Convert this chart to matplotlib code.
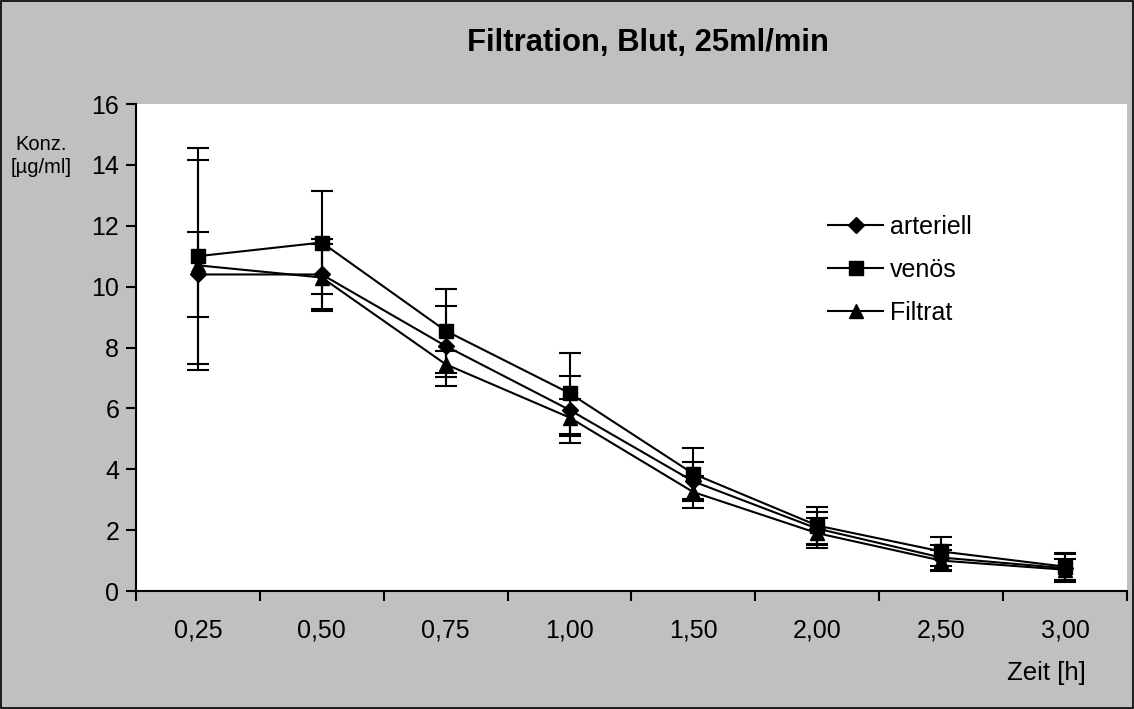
import matplotlib
matplotlib.use("Agg")
import matplotlib.pyplot as plt
from matplotlib.lines import Line2D
import numpy as np

plt.rcParams['font.family'] = ['Liberation Sans', 'DejaVu Sans']

zeit = ["0,25", "0,50", "0,75", "1,00", "1,50", "2,00", "2,50", "3,00"]
arteriell = [10.4, 10.4, 8.05, 5.95, 3.6, 2.05, 1.1, 0.75]
arteriell_sd = [1.4, 1.15, 1.3, 1.1, 0.63, 0.55, 0.4, 0.45]
venoes = [11.0, 11.45, 8.55, 6.5, 3.85, 2.15, 1.3, 0.8]
venoes_sd = [3.55, 1.7, 1.38, 1.33, 0.84, 0.6, 0.48, 0.45]
filtrat = [10.7, 10.3, 7.45, 5.7, 3.25, 1.9, 1.0, 0.7]
filtrat_sd = [3.45, 1.1, 0.42, 0.62, 0.52, 0.5, 0.35, 0.35]

grau = "#c0c0c0"
fig = plt.figure(figsize=(11.34, 7.09), dpi=100, facecolor=grau)
fig.patches.append(plt.Rectangle((0.001, 0.001), 0.998, 0.997, transform=fig.transFigure,
                                 fill=False, edgecolor="black", linewidth=1.2))
ax = fig.add_axes([0.1199, 0.1664, 0.8739, 0.6869])
ax.set_facecolor("white")

x = np.arange(len(zeit))
serien = [(arteriell, arteriell_sd, "D", 8, "arteriell"),
          (venoes, venoes_sd, "s", 9.5, "venös"),
          (filtrat, filtrat_sd, "^", 9.5, "Filtrat")]
for y, sd, m, ms, name in serien:
    ax.errorbar(x, y, yerr=sd, color="black", marker=m, markersize=ms, linewidth=1.5,
                elinewidth=1.5, capsize=8, capthick=1.5, label=name)

ax.set_xlim(-0.5, len(zeit) - 0.5)
ax.set_ylim(0, 16)
ax.set_yticks(range(0, 17, 2))
ax.set_xticks(x)
ax.set_xticklabels(zeit)
ax.set_xticks(np.arange(-0.5, len(zeit)), minor=True)
ax.tick_params(axis="x", which="major", length=0, pad=20, labelsize=18)
ax.tick_params(axis="x", which="minor", length=7, width=1.5, direction="out")
ax.tick_params(axis="y", length=7, width=1.5, direction="out", pad=5, labelsize=18)
for s in ["top", "right"]:
    ax.spines[s].set_visible(False)
for s in ["left", "bottom"]:
    ax.spines[s].set_linewidth(1.5)

fig.text(0.571, 0.94, "Filtration, Blut, 25ml/min", ha="center", va="center",
         fontsize=22.3, fontweight="bold")
fig.text(0.036, 0.78, "Konz.\n[µg/ml]", ha="center", va="center", fontsize=14.5, linespacing=1.25)
fig.text(0.923, 0.051, "Zeit [h]", ha="center", va="center", fontsize=18.5)

handles = [Line2D([], [], color="black", marker=m, markersize=ms, linewidth=1.5)
           for _, _, m, ms, _ in serien]
ax.legend(handles, [s[4] for s in serien], frameon=False, fontsize=18,
          loc="upper left", bbox_to_anchor=(0.676, 0.818), handlelength=2.2,
          handletextpad=0.25, labelspacing=0.75)

fig.savefig("out.png", dpi=100, facecolor=grau)
